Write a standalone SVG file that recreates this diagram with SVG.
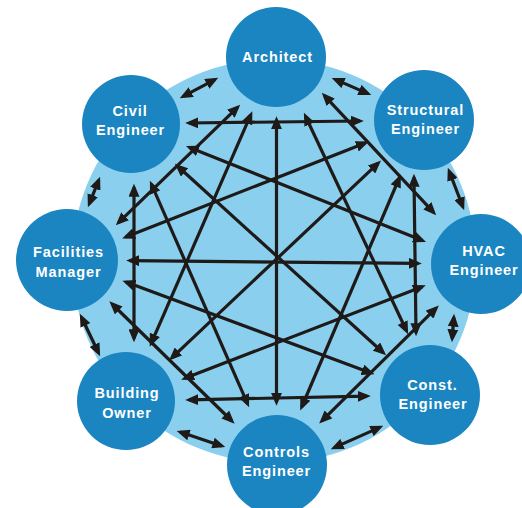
<svg xmlns="http://www.w3.org/2000/svg" width="522" height="508" viewBox="0 0 522 508">
  <style>
    .hub { fill: #8bcfef; }
    .node circle { fill: #1a85c0; }
    .node text { fill: #ffffff; font-family: "Liberation Sans", Arial, sans-serif; font-weight: bold; font-size: 14.5px; letter-spacing: 0.9px; text-anchor: middle; }
    .edge { stroke: #1e1a18; stroke-width: 3.2; fill: none; marker-start: url(#head); marker-end: url(#head); }
  </style>
  <defs>
    <marker id="head" viewBox="0 0 13 11" refX="9.2" refY="5.5" markerWidth="13" markerHeight="11" markerUnits="userSpaceOnUse" orient="auto-start-reverse">
      <path d="M0,0 L13,5.5 L0,11 z" fill="#1e1a18"/>
    </marker>
  </defs>

  <rect width="522" height="508" fill="#ffffff"/>
  <circle class="hub" cx="274" cy="261" r="202"/>

  <g id="connectors">
    <!-- neighbours around the ring -->
    <line class="edge" x1="183.1" y1="96.4" x2="214.9" y2="79.6"/>
    <line class="edge" x1="335.2" y1="79.4" x2="367.8" y2="93.6"/>
    <line class="edge" x1="449.2" y1="171.3" x2="462.8" y2="206.7"/>
    <line class="edge" x1="453.8" y1="317.5" x2="452.2" y2="338.5"/>
    <line class="edge" x1="379.8" y1="427.4" x2="334.2" y2="447.6"/>
    <line class="edge" x1="221.7" y1="445.9" x2="180.3" y2="432.1"/>
    <line class="edge" x1="98.5" y1="352.8" x2="81.5" y2="317.2"/>
    <line class="edge" x1="89.3" y1="203.8" x2="98.7" y2="180.2"/>

    <!-- diameters -->
    <line class="edge" x1="276.5" y1="120" x2="276.5" y2="402"/>
    <line class="edge" x1="130" y1="260.6" x2="418" y2="263.4"/>
    <line class="edge" x1="177.7" y1="166.3" x2="383.3" y2="352.7"/>
    <line class="edge" x1="378.2" y1="163.2" x2="171.8" y2="357.8"/>

    <!-- two-step links -->
    <line class="edge" x1="189" y1="123" x2="360" y2="121"/>
    <line class="edge" x1="414" y1="177.5" x2="416" y2="332.5"/>
    <line class="edge" x1="367" y1="396.2" x2="189" y2="399.8"/>
    <line class="edge" x1="134" y1="338.5" x2="134" y2="187.5"/>
    <line class="edge" x1="324.4" y1="95.6" x2="433.6" y2="212.4"/>
    <line class="edge" x1="436.1" y1="308.2" x2="321.9" y2="420.8"/>
    <line class="edge" x1="231.9" y1="421" x2="112.1" y2="304"/>
    <line class="edge" x1="118.5" y1="222.6" x2="237.5" y2="107.4"/>

    <!-- three-step links -->
    <line class="edge" x1="305.5" y1="116.2" x2="406.5" y2="330.8"/>
    <line class="edge" x1="250.8" y1="114.7" x2="151.2" y2="343.3"/>
    <line class="edge" x1="399.3" y1="178" x2="301.7" y2="407"/>
    <line class="edge" x1="365.3" y1="143" x2="125.7" y2="237"/>
    <line class="edge" x1="422.2" y1="286.7" x2="184.8" y2="378.3"/>
    <line class="edge" x1="422.5" y1="240.6" x2="189.5" y2="147.4"/>
    <line class="edge" x1="371" y1="373" x2="126" y2="282"/>
    <line class="edge" x1="247.6" y1="403.8" x2="151.4" y2="184.2"/>
  </g>

  <g id="architect" class="node">
    <circle cx="276" cy="57" r="50"/>
    <text x="277.5" y="62">Architect</text>
  </g>
  <g id="structural-engineer" class="node">
    <circle cx="424" cy="120" r="50"/>
    <text x="425.5" y="115">Structural</text>
    <text x="425.5" y="134">Engineer</text>
  </g>
  <g id="hvac-engineer" class="node">
    <circle cx="481" cy="264" r="50"/>
    <text x="484" y="256">HVAC</text>
    <text x="484" y="275">Engineer</text>
  </g>
  <g id="const-engineer" class="node">
    <circle cx="430" cy="395" r="50"/>
    <text x="432.5" y="390">Const.</text>
    <text x="433" y="408.5">Engineer</text>
  </g>
  <g id="controls-engineer" class="node">
    <circle cx="277" cy="465" r="50"/>
    <text x="276.5" y="457">Controls</text>
    <text x="276.5" y="475.5">Engineer</text>
  </g>
  <g id="building-owner" class="node">
    <circle cx="126" cy="401" r="49"/>
    <text x="127" y="398">Building</text>
    <text x="127" y="417.5">Owner</text>
  </g>
  <g id="facilities-manager" class="node">
    <circle cx="67" cy="260" r="51"/>
    <text x="68.5" y="257">Facilities</text>
    <text x="68.5" y="276.5">Manager</text>
  </g>
  <g id="civil-engineer" class="node">
    <circle cx="131" cy="124" r="49"/>
    <text x="130" y="115.5">Civil</text>
    <text x="130.5" y="135">Engineer</text>
  </g>
</svg>
